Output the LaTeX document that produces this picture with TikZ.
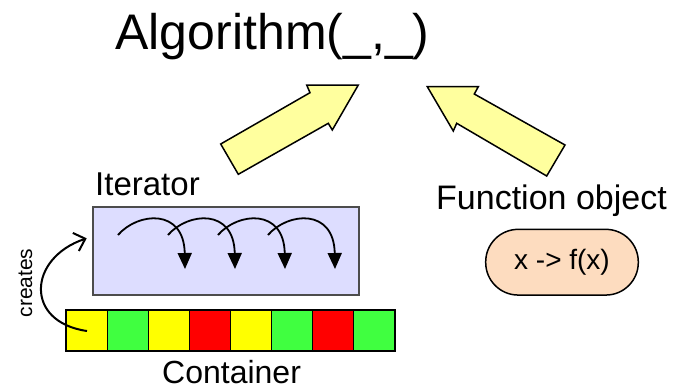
\documentclass[tikz,border=0pt]{standalone}
\usepackage{fontspec}
\setmainfont{Liberation Sans}
\usetikzlibrary{arrows.meta}
\definecolor{iterfill}{HTML}{DDDDFF}
\definecolor{pillfill}{HTML}{FDDCBF}
\definecolor{arrowfill}{HTML}{FFFF9E}
\definecolor{cy}{HTML}{FFFF00}
\definecolor{cg}{HTML}{40FF40}
\definecolor{cr}{HTML}{FF0000}
\tikzset{
  lbl/.style={inner sep=0pt, anchor=base west},
  cell/.style={draw=black, line width=1pt, minimum width=41.1pt, minimum height=41pt, inner sep=0pt, outer sep=0pt, anchor=west},
  bigarrow/.style={draw=black, line width=1.5pt, fill=arrowfill, line join=miter},
  loop/.style={line width=1.8pt, -{Triangle[length=16pt,width=14pt]}},
}
\begin{document}
\begin{tikzpicture}[x=1pt,y=-1pt]
\useasboundingbox (0,0) rectangle (675,391);
% title
\node[inner sep=0pt, anchor=base] (title) at (272.5,49) {\fontsize{50}{60}\selectfont Algorithm(\_,\_)};
% labels
\node[lbl] (iterlbl) at (95,195) {\fontsize{33}{40}\selectfont Iterator};
\node[lbl] (funclbl) at (436,209) {\fontsize{34}{40}\selectfont Function object};
\node[lbl] (contlbl) at (162,383) {\fontsize{32}{38}\selectfont Container};
% iterator box
\node[draw=black!70, line width=1.2pt, fill=iterfill, minimum width=266pt, minimum height=88pt, inner sep=0pt] (iter) at (226,251) {};
% function object pill
\node[draw=black, line width=1.5pt, fill=pillfill, rounded corners=32.5pt, minimum width=152.6pt, minimum height=65.7pt, inner sep=0pt] (func) at (562,262.2) {\fontsize{28}{34}\selectfont x -> f(x)};
% container cells
\node[cell, fill=cy] (c1) at (66,330.5) {};
\node[cell, fill=cg] (c2) at (c1.east) {};
\node[cell, fill=cy] (c3) at (c2.east) {};
\node[cell, fill=cr] (c4) at (c3.east) {};
\node[cell, fill=cy] (c5) at (c4.east) {};
\node[cell, fill=cg] (c6) at (c5.east) {};
\node[cell, fill=cr] (c7) at (c6.east) {};
\node[cell, fill=cg] (c8) at (c7.east) {};
\draw[line width=2pt] (c1.north west) rectangle (c8.south east);
% loops inside the iterator
\foreach \x in {118,168,218,268}{
  \draw[loop] (\x,235) .. controls (\x+20,212) and (\x+66,208) .. (\x+67,269);
}
% creates arrow
\coordinate (cstart) at (87,331);
\coordinate (cend) at (86.7,238.3);
\node[inner sep=0pt, anchor=base, rotate=90] (creates) at (32,283) {\fontsize{21}{25}\selectfont creates};
\draw[line width=2pt, -{Straight Barb[length=10pt,width=19pt]}] (cstart) .. controls (24,322) and (28,258) .. (cend);
% big yellow arrows
\draw[bigarrow] (358.3,85) -- (306.7,85) -- (310,92.7) -- (220.7,144) -- (238.3,174.3) -- (328.3,123.3) -- (332.3,130) -- cycle;
\draw[bigarrow] (427.3,86.7) -- (478.3,86.7) -- (474.3,94) -- (565,145) -- (546.7,176) -- (456.7,123.3) -- (453.3,131) -- cycle;
\end{tikzpicture}
\end{document}
